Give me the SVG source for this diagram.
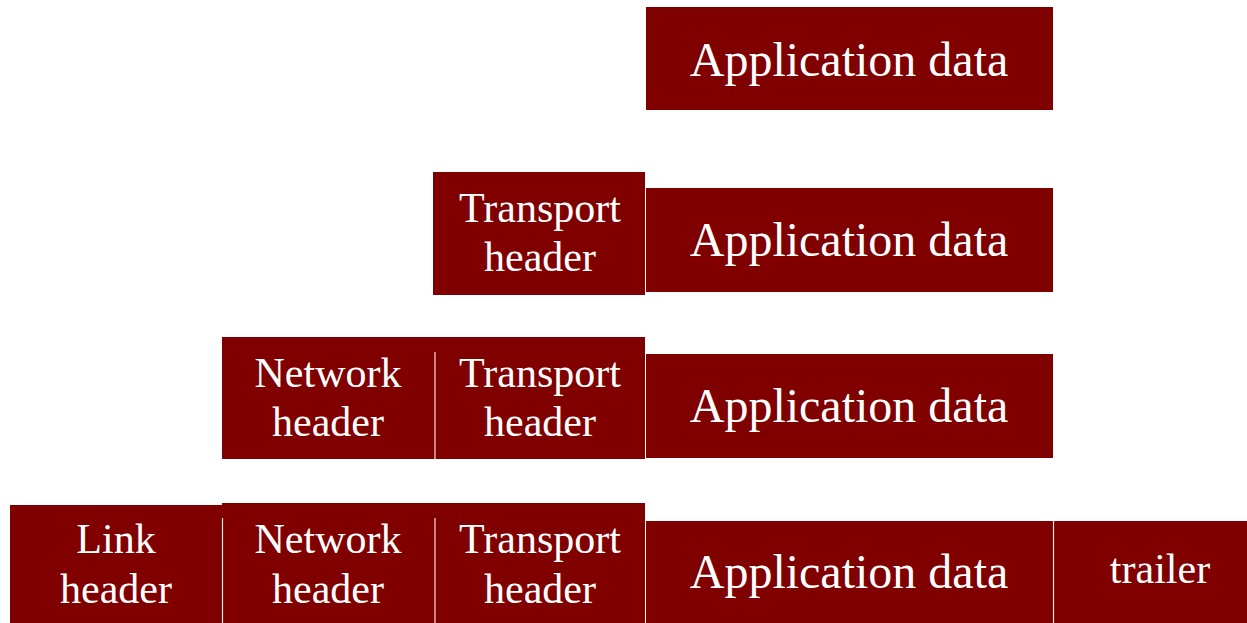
<svg xmlns="http://www.w3.org/2000/svg" width="1247" height="623" viewBox="0 0 1247 623">
<style>
.b{fill:#800000}
.t{fill:#ffffff;font-family:"Liberation Serif","Times New Roman",serif;text-anchor:middle}
.L{font-size:48px}
.S{font-size:42px}
.d{stroke:#f0e0e0;stroke-width:1.2}
</style>
<rect width="1247" height="623" fill="#ffffff"/>
<g id="row1">
<g id="app1"><rect class="b" x="646" y="7" width="407" height="103"/><text class="t L" x="849" y="76">Application data</text></g>
</g>
<g id="row2">
<g id="transport2"><rect class="b" x="433" y="172" width="212" height="123"/><text class="t S" x="540" y="222">Transport</text><text class="t S" x="540" y="271">header</text></g>
<g id="app2"><rect class="b" x="646" y="188" width="407" height="104"/><text class="t L" x="849" y="256">Application data</text></g>
</g>
<g id="row3">
<g id="network3"><rect class="b" x="222" y="337" width="213" height="122"/><text class="t S" x="328" y="387">Network</text><text class="t S" x="328" y="436">header</text></g>
<g id="transport3"><rect class="b" x="435" y="337" width="210" height="122"/><text class="t S" x="540" y="387">Transport</text><text class="t S" x="540" y="436">header</text></g>
<g id="app3"><rect class="b" x="646" y="354" width="407" height="104"/><text class="t L" x="849" y="422">Application data</text></g>
</g>
<g id="row4">
<g id="link4"><rect class="b" x="10" y="505" width="212" height="118"/><text class="t S" x="116" y="553">Link</text><text class="t S" x="116" y="603">header</text></g>
<g id="network4"><rect class="b" x="222" y="503" width="213" height="120"/><text class="t S" x="328" y="553">Network</text><text class="t S" x="328" y="603">header</text></g>
<g id="transport4"><rect class="b" x="435" y="503" width="210" height="120"/><text class="t S" x="540" y="553">Transport</text><text class="t S" x="540" y="603">header</text></g>
<g id="app4"><rect class="b" x="646" y="521" width="407" height="102"/><text class="t L" x="849" y="588">Application data</text></g>
<g id="trailer4"><rect class="b" x="1053" y="521" width="194" height="102"/><text class="t S" x="1160" y="583">trailer</text></g>
</g>
<g id="connectors">
<line class="d" x1="435" y1="352" x2="435" y2="459"/>
<line class="d" x1="222.5" y1="518" x2="222.5" y2="623"/>
<line class="d" x1="435" y1="518" x2="435" y2="623"/>
<line class="d" x1="1053.5" y1="521" x2="1053.5" y2="623"/>
</g>
</svg>
